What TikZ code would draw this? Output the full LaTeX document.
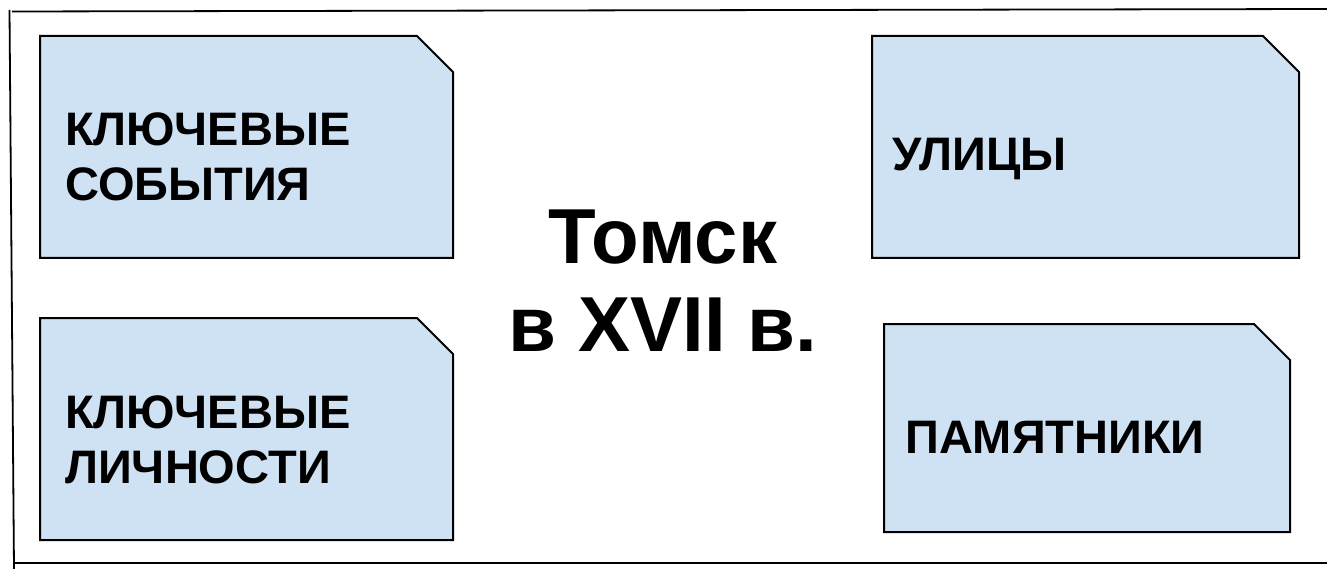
\documentclass[tikz,border=0pt]{standalone}
\usepackage{fontspec}
\setmainfont{Liberation Sans}
\usetikzlibrary{positioning}
\definecolor{cardblue}{HTML}{CFE2F3}

\begin{document}
\begin{tikzpicture}[x=1pt, y=-1pt,
	card/.style={rectangle, inner sep=0pt, outer sep=0pt},
	cardline/.style={draw, line width=2pt, fill=cardblue, line join=miter},
	caption/.style={font=\fontsize{47}{55}\selectfont\bfseries, align=left, inner sep=0pt},
	title/.style={font=\fontsize{78}{88}\selectfont\bfseries, align=center, inner sep=0pt},
	frame/.style={line width=1.8pt}]
		\useasboundingbox (0,0) rectangle (1327,569);

		% outer frame
		\draw[frame] (12,11.5) -- (1327,9);
		\draw[frame] (9.5,10) -- (14,569);
		\draw[frame] (15,563) -- (1327,563);

		\node [card, minimum width=413pt, minimum height=222pt] (events) at (246.5,147) {};
		\node [card, minimum width=413pt, minimum height=222pt] (people) at (246.5,429) {};
		\node [card, minimum width=427pt, minimum height=222pt] (streets) at (1085.5,147) {};
		\node [card, minimum width=406pt, minimum height=208pt] (monuments) at (1087,428) {};

		% cards with the cut corner
		\foreach \c in {events,people,streets,monuments}
			\draw[cardline] (\c.north west) -- ([xshift=-36pt]\c.north east)
				-- ([yshift=-36pt]\c.north east) -- (\c.south east) -- (\c.south west) -- cycle;

		\node [caption, right=25pt of events.west, yshift=-10pt] (eventsText) {КЛЮЧЕВЫЕ\\СОБЫТИЯ};
		\node [caption, right=25pt of people.west, yshift=-11pt] (peopleText) {КЛЮЧЕВЫЕ\\ЛИЧНОСТИ};
		\node [caption, right=20pt of streets.west, yshift=-12pt] (streetsText) {УЛИЦЫ};
		\node [caption, right=21pt of monuments.west, yshift=-9pt] (monumentsText) {ПАМЯТНИКИ};

		\node [title] (city) at (663,281) {Томск\\в XVII в.};
	\end{tikzpicture}
\end{document}
